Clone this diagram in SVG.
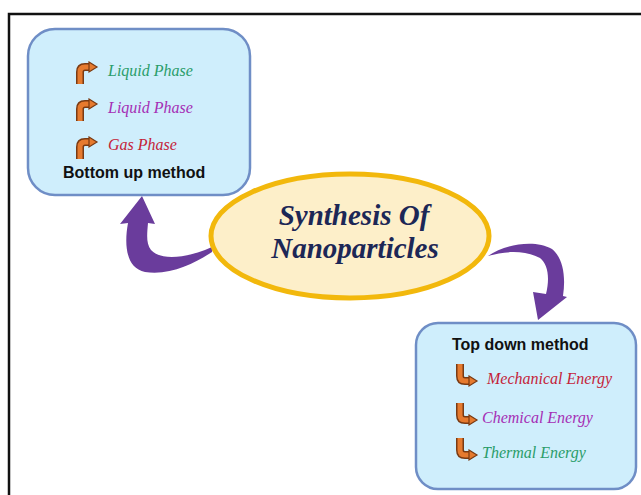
<svg xmlns="http://www.w3.org/2000/svg" width="641" height="495" viewBox="0 0 641 495">
<style>
.box{fill:#cfeefc;stroke:#6f8ec6;stroke-width:2.5}
.item{font-family:"Liberation Serif",serif;font-style:italic;font-size:16px}
.head{font-family:"Liberation Sans",Arial,sans-serif;font-weight:bold;font-size:16px;fill:#111}
.title{font-family:"Liberation Serif",serif;font-style:italic;font-weight:bold;font-size:29px;fill:#1c2756;text-anchor:middle}
.green{fill:#2a9d6a}.mag{fill:#a52fb5}.red{fill:#c41e3a}
.arrow{fill:#6a3c9c}
</style>
<defs>
<g id="up">
<path d="M4 22 V10 Q4 5 9 5 H14" fill="none" stroke="#7a3a12" stroke-width="8"/>
<path d="M4 22 V10 Q4 5 9 5 H14" fill="none" stroke="#e67a2e" stroke-width="5"/>
<polygon points="13,0 21,5 13,10" fill="#e67a2e" stroke="#7a3a12" stroke-width="1.2"/>
</g>
<g id="down">
<path d="M4 0 V12 Q4 17 9 17 H14" fill="none" stroke="#7a3a12" stroke-width="8"/>
<path d="M4 0 V12 Q4 17 9 17 H14" fill="none" stroke="#e67a2e" stroke-width="5"/>
<polygon points="13,12 21,17 13,22" fill="#e67a2e" stroke="#7a3a12" stroke-width="1.2"/>
</g>
</defs>
<rect x="0" y="0" width="641" height="495" fill="#fff"/>
<rect x="9" y="14" width="660" height="520" fill="none" stroke="#111" stroke-width="2.5"/>

<g id="connectors">
<path class="arrow" d="M212 247 C190 257,162 262,151 250 C146 243,147 235,148 223 L155 224 L142 196 L120 224 L128 223 C124 245,126 268,145 272 C170 276,195 263,212 252 Z"/>
<path class="arrow" d="M488 256 C505 244,535 239,552 249 C563 258,566 276,563 296 L567 297 L538 320 L533 292 L546 294 C550 278,548 264,540 258 C525 250,505 251,488 256 Z"/>
</g>

<g id="bottom-up">
<rect class="box" x="28" y="29" width="222" height="166" rx="27"/>
<use href="#up" x="76" y="62"/>
<text class="item green" x="108" y="76">Liquid Phase</text>
<use href="#up" x="76" y="99"/>
<text class="item mag" x="108" y="113">Liquid Phase</text>
<use href="#up" x="76" y="137"/>
<text class="item red" x="108" y="150">Gas Phase</text>
<text class="head" x="63" y="178">Bottom up method</text>
</g>

<g id="center">
<ellipse cx="350" cy="236" rx="139" ry="62" fill="#fdefc9" stroke="#f2b80c" stroke-width="5"/>
<text class="title" x="354" y="225">Synthesis Of</text>
<text class="title" x="355" y="258">Nanoparticles</text>
</g>

<g id="top-down">
<rect class="box" x="416" y="323" width="220" height="166" rx="22"/>
<text class="head" x="452" y="350">Top down method</text>
<use href="#down" x="456" y="364"/>
<text class="item red" x="487" y="384">Mechanical Energy</text>
<use href="#down" x="456" y="403"/>
<text class="item mag" x="482" y="423">Chemical Energy</text>
<use href="#down" x="456" y="438"/>
<text class="item green" x="482" y="458">Thermal Energy</text>
</g>
</svg>
